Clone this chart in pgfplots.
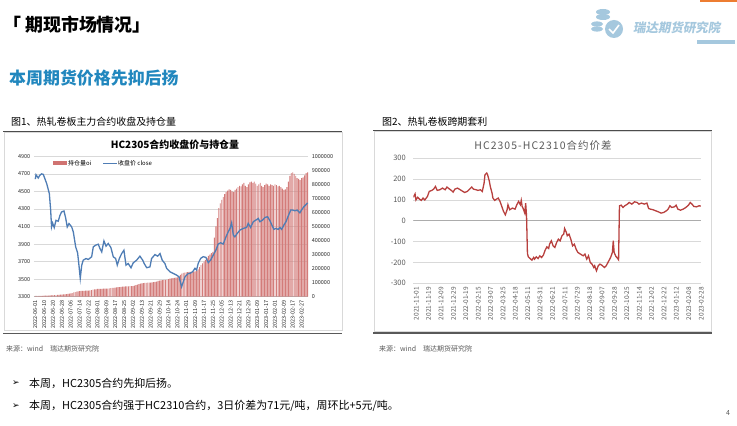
\documentclass[border=0pt]{standalone}
\usepackage{fontspec}
\usepackage{pgfplots}
\usepackage{pgfplotstable}
\pgfplotsset{compat=1.18}
\setmainfont{Noto Sans CJK SC}
\newfontfamily\logofont[FakeSlant=0.18]{Noto Sans CJK SC}
\newfontfamily\spaced[LetterSpace=10]{Noto Sans CJK SC}
\newfontfamily\dejavu{DejaVu Sans}

\definecolor{barred}{RGB}{196,80,78}
\definecolor{lineblue}{RGB}{79,125,181}
\definecolor{spreadred}{RGB}{184,64,62}
\definecolor{titleblue}{RGB}{33,135,190}
\definecolor{logoblue}{RGB}{165,200,222}
\definecolor{gridgray}{RGB}{217,217,217}
\definecolor{txtgray}{RGB}{89,89,89}
\definecolor{toporange}{RGB}{237,125,49}

% open interest of HC2305, one row per trading day from 2022-06-01
\pgfplotstableread[row sep=\\]{
oi\\
5000\\5000\\5500\\6000\\6000\\6500\\7000\\7000\\8000\\8000\\
9000\\10000\\11000\\11000\\12000\\13000\\13000\\14000\\15000\\16000\\
17000\\18000\\20000\\22000\\24000\\26000\\30000\\33000\\36000\\38000\\
40000\\41000\\42000\\42000\\43000\\43000\\44000\\45000\\47000\\50000\\
52000\\53000\\55000\\55000\\56000\\56000\\57000\\57000\\58000\\58000\\
60000\\61000\\62000\\63000\\64000\\66000\\68000\\69000\\70000\\71000\\
72000\\73000\\74000\\74000\\75000\\76000\\76000\\78000\\82000\\86000\\
90000\\93000\\95000\\97000\\98000\\99000\\100000\\100000\\101000\\102000\\
103000\\105000\\108000\\112000\\114000\\116000\\118000\\119000\\120000\\122000\\
125000\\128000\\130000\\132000\\134000\\136000\\138000\\145000\\155000\\165000\\
170000\\172000\\174000\\175000\\176000\\177000\\178000\\179000\\180000\\185000\\
195000\\210000\\225000\\238000\\250000\\262000\\275000\\290000\\300000\\310000\\
320000\\420000\\500000\\560000\\630000\\665000\\690000\\710000\\730000\\745000\\
755000\\765000\\760000\\750000\\745000\\760000\\770000\\780000\\790000\\785000\\
800000\\810000\\790000\\780000\\800000\\815000\\820000\\810000\\820000\\805000\\
790000\\800000\\810000\\790000\\780000\\795000\\805000\\800000\\790000\\800000\\
795000\\790000\\800000\\795000\\785000\\790000\\780000\\770000\\760000\\765000\\
780000\\820000\\860000\\880000\\885000\\875000\\860000\\845000\\840000\\830000\\
845000\\850000\\865000\\880000\\885000\\
}\oitable

\begin{document}
\begin{tikzpicture}
\useasboundingbox (0,0) rectangle (737bp,426bp);
\fill[white] (0,0) rectangle (737bp,426bp);

% header
\fill[toporange] (700bp,423.5bp) rectangle (737bp,426bp);
\node[anchor=west, inner sep=0] at (3bp,401bp) {\fontsize{18}{21}\selectfont\bfseries 「 期现市场情况」};
% logo
\begin{scope}[logoblue]
  \fill (603bp,414bp) ellipse (7bp and 3bp);
  \fill (603bp,409bp) ellipse (7bp and 3bp);
  \fill (597bp,402bp) ellipse (6bp and 2.6bp);
  \fill (597bp,397bp) ellipse (6bp and 2.6bp);
  \fill (614bp,397bp) circle (9bp);
  \draw[white, line width=1.6bp] (609bp,397bp) -- (613bp,393bp) -- (619bp,401bp);
\end{scope}
\node[anchor=west, inner sep=0, text=logoblue] at (633bp,398bp) {\logofont\fontsize{12.5}{15}\selectfont\bfseries 瑞达期货研究院};
\fill[logoblue] (697bp,382bp) rectangle (735bp,385.5bp);

\node[anchor=west, inner sep=0, text=titleblue] at (9bp,348bp) {\fontsize{17}{20}\selectfont\bfseries 本周期货价格先抑后扬};

% captions
\node[anchor=west, inner sep=0] at (11bp,304bp) {\fontsize{10}{12}\selectfont 图1、热轧卷板主力合约收盘及持仓量};
\node[anchor=west, inner sep=0] at (382bp,304bp) {\fontsize{10}{12}\selectfont 图2、热轧卷板跨期套利};

% frames
\draw[gridgray] (4bp,96bp) rectangle (342bp,294bp);
\draw[gridgray] (374bp,95bp) rectangle (711.5bp,295bp);
\draw[black!70, line width=1bp] (3bp,294.5bp) -- (342bp,294.5bp);
\draw[black!70, line width=1bp] (373bp,295.3bp) -- (712bp,295.3bp);
\draw[black!65, line width=1.5bp] (3bp,92.5bp) -- (342bp,92.5bp);
\draw[black!65, line width=1.5bp] (373bp,93bp) -- (712bp,93bp);

% left chart decorations
\node[inner sep=0] at (175bp,281bp) {\fontsize{10}{12}\selectfont\bfseries HC2305合约收盘价与持仓量};
\fill[barred!80] (53bp,261bp) rectangle (67bp,264.5bp);
\node[anchor=west, inner sep=0] at (68bp,262.7bp) {\fontsize{6}{7}\selectfont 持仓量oi};
\draw[lineblue, line width=1.3bp] (103bp,262.7bp) -- (117bp,262.7bp);
\node[anchor=west, inner sep=0] at (118bp,262.7bp) {\fontsize{6}{7}\selectfont 收盘价 close};

% price axis: grid and labels
\begin{axis}[at={(33.8bp,129.3bp)}, anchor=south west, scale only axis,
  width=274.5bp, height=140.4bp,
  xmin=-1, xmax=184.5, ymin=3300, ymax=4900,
  axis y line*=left, axis x line*=bottom,
  x axis line style={gridgray!60!gray}, y axis line style={draw=none},
  ytick={3300,3500,3700,3900,4100,4300,4500,4700,4900},
  ymajorgrids, grid style={gridgray, line width=0.6bp},
  xtick={0,6,...,180},
  xticklabels={2022-06-01,2022-06-10,2022-06-20,2022-06-28,2022-07-06,2022-07-14,2022-07-22,2022-08-01,2022-08-09,2022-08-17,2022-08-25,2022-09-02,2022-09-13,2022-09-21,2022-09-29,2022-10-14,2022-10-24,2022-11-01,2022-11-09,2022-11-17,2022-11-25,2022-12-05,2022-12-13,2022-12-21,2022-12-29,2023-01-09,2023-01-17,2023-02-01,2023-02-09,2023-02-17,2023-02-27},
  major tick length=0,
  tick label style={font=\fontsize{5.5}{6}\selectfont, text=black!85},
  xticklabel style={rotate=90, anchor=east},
  /pgf/number format/.cd, 1000 sep={}, assume math mode=true]
\end{axis}

% open interest bars, right axis
\begin{axis}[at={(33.8bp,129.3bp)}, anchor=south west, scale only axis,
  width=274.5bp, height=140.4bp,
  xmin=-1, xmax=184.5, ymin=0, ymax=1000000,
  axis x line=none, axis y line*=right, y axis line style={draw=none},
  ytick={0,100000,200000,300000,400000,500000,600000,700000,800000,900000,1000000},
  scaled y ticks=false, major tick length=0,
  yticklabel style={font=\fontsize{5.5}{6}\selectfont, text=black!85, /pgf/number format/.cd, fixed, 1000 sep={}, assume math mode=true}]
\addplot[ybar, bar width=0.62, fill=barred!75, draw=none] table[x expr=\coordindex, y=oi] {\oitable};
\end{axis}

% close price line
\begin{axis}[at={(33.8bp,129.3bp)}, anchor=south west, scale only axis,
  width=274.5bp, height=140.4bp,
  xmin=-1, xmax=184.5, ymin=3300, ymax=4900, hide axis]
\addplot[lineblue, line width=1.3bp] coordinates {
(0,4640)(0.5,4690)(2,4652)(3,4683)(4.3,4700)(5.4,4694)(7.7,4590)(9.5,4475)(10.4,4285)(11,4095)
(11.7,4140)(12.8,4088)(14,4170)(15.5,4160)(16.7,4228)(17.8,4266)(19.4,4277)(20.5,4200)(21.6,4095)(22.8,4133)
(24.6,4095)(25.7,4038)(27.3,3868)(28.6,3800)(29.5,3660)(30.4,3508)(31.4,3660)(32.4,3716)(34.3,3735)(35.8,3724)
(38.1,3755)(39.2,3868)(40.8,3887)(42.6,3898)(43.7,3849)(44.9,3811)(46.4,3936)(47.8,3876)(49.3,3906)(51.1,3860)
(52.7,3755)(54.3,3735)(55.4,3660)(56.8,3735)(58.4,3792)(59.9,3830)(61.3,3660)(62.8,3678)(64.7,3630)(66.2,3686)
(68.5,3716)(70.7,3762)(72.6,3716)(73.6,3678)(75.3,3630)(77.5,3640)(78.6,3735)(80.9,3780)(82.7,3762)(84.3,3792)
(85.8,3716)(87.6,3678)(88.8,3622)(91,3584)(93.2,3565)(95.5,3546)(97.1,3527)(98.9,3413)(100,3470)(101.2,3527)
(103.4,3565)(104.5,3566)(106.4,3585)(107.9,3623)(109,3604)(110.1,3680)(111.8,3737)(113.5,3756)(115.3,3748)(116.9,3688)
(118.5,3718)(120.3,3775)(122.1,3832)(123.6,3900)(125.3,3915)(127,3900)(128.9,3983)(130.4,4040)(131.6,4078)(132.7,4142)
(133.8,4002)(134.9,3983)(136.5,4021)(138.3,4059)(140.5,4078)(142.8,4089)(143.9,4135)(145.5,4089)(147.3,4154)(149.1,4173)
(150.7,4192)(151.8,4154)(153.6,4173)(155.2,4203)(157,4211)(158.6,4165)(159.9,4116)(161.3,4067)(162.6,4078)(164.2,4067)
(165.3,4089)(166.5,4067)(168,4116)(169.4,4154)(170.9,4218)(172.6,4287)(173.9,4287)(175.5,4279)(177,4287)(178.8,4256)
(179.9,4287)(181.5,4325)(183,4350)(184,4370)};
\end{axis}

% right chart
\node[inner sep=0, text=txtgray] at (543bp,280bp) {\spaced\fontsize{10.5}{12}\selectfont HC2305-HC2310合约价差};
\begin{axis}[at={(413.3bp,142.7bp)}, anchor=south west, scale only axis,
  width=288bp, height=125bp,
  xmin=0, xmax=325.5, ymin=-300, ymax=300,
  axis line style={draw=none},
  ytick={-300,-200,-100,0,100,200,300},
  ymajorgrids, grid style={gridgray, line width=0.8bp},
  xtick={0,14,...,322},
  xticklabels={2021-11-01,2021-11-19,2021-12-09,2021-12-29,2022-01-19,2022-02-15,2022-03-07,2022-03-25,2022-04-18,2022-05-11,2022-05-31,2022-06-21,2022-07-11,2022-07-29,2022-08-18,2022-09-07,2022-09-28,2022-10-25,2022-11-14,2022-12-02,2022-12-22,2023-01-12,2023-02-08,2023-02-28},
  major tick length=0,
  tick label style={font=\fontsize{6.5}{7}\selectfont, text=txtgray},
  yticklabel style={font=\fontsize{7.5}{8}\selectfont, xshift=-4bp},
  xticklabel style={rotate=90, anchor=east, yshift=-3bp},
  /pgf/number format/assume math mode=true]
\draw[gray!65, line width=1.2bp] (axis cs:0,0) -- (axis cs:325.5,0);
\addplot[spreadred, line width=1.3bp] coordinates {
(0,113)(2,129)(3,100)(5,113)(7,104)(9,98)(11,109)(13,100)(16,117)(18,141)
(21,146)(23,152)(25,165)(27,146)(30,149)(33,157)(36,149)(38,162)(41,152)(43,146)
(45,138)(47,152)(50,157)(53,149)(56,141)(58,136)(61,141)(63,149)(66,162)(68,152)
(71,149)(73,146)(76,149)(78,141)(80,181)(81,221)(83,229)(84,221)(86,189)(87,165)
(89,133)(90,109)(92,98)(94,104)(96,109)(98,93)(100,69)(102,45)(104,29)(106,53)
(107,77)(109,53)(112,61)(115,56)(117,77)(119,93)(121,77)(122,98)(123,69)(124,61)
(126,37)(127,85)(128,21)(129,-157)(130,-173)(132,-181)(134,-189)(136,-176)(137,-184)(139,-173)
(141,-181)(143,-168)(145,-176)(147,-165)(149,-141)(151,-125)(153,-133)(154,-112)(156,-96)(158,-120)
(160,-128)(162,-104)(164,-88)(166,-96)(168,-72)(170,-64)(171,-37)(173,-56)(174,-72)(176,-64)
(178,-88)(180,-120)(182,-112)(184,-136)(186,-152)(189,-160)(192,-168)(194,-160)(196,-184)(198,-168)
(200,-200)(202,-208)(204,-224)(205,-216)(207,-240)(209,-216)(211,-208)(213,-213)(216,-224)(218,-216)
(220,-200)(223,-176)(225,-152)(226,-96)(227,-152)(229,-171)(231,-181)(232,-187)(233,72)(235,75)
(237,64)(239,72)(242,80)(244,88)(247,80)(250,91)(253,88)(255,80)(258,85)(261,80)
(264,85)(266,59)(268,56)(271,53)(274,48)(277,43)(280,37)(283,40)(286,48)(288,56)
(290,72)(292,64)(295,67)(297,75)(299,56)(302,51)(305,56)(308,64)(311,75)(313,88)
(315,80)(317,69)(320,67)(323,72)(325,71)};
\end{axis}

% sources
\node[anchor=west, inner sep=0, text=txtgray] at (6bp,77bp) {\fontsize{7}{8}\selectfont 来源：wind\quad 瑞达期货研究院};
\node[anchor=west, inner sep=0, text=txtgray] at (379bp,77bp) {\fontsize{7}{8}\selectfont 来源：wind\quad 瑞达期货研究院};

% bullets
\node[anchor=west, inner sep=0] at (12bp,43bp) {\dejavu\fontsize{9}{10}\selectfont ➢};
\node[anchor=west, inner sep=0] at (29bp,43bp) {\fontsize{11}{13}\selectfont 本周，HC2305合约先抑后扬。};
\node[anchor=west, inner sep=0] at (12bp,20bp) {\dejavu\fontsize{9}{10}\selectfont ➢};
\node[anchor=west, inner sep=0] at (29bp,20bp) {\fontsize{11}{13}\selectfont 本周，HC2305合约强于HC2310合约，3日价差为71元/吨，周环比+5元/吨。};
\node[inner sep=0, text=txtgray] at (728bp,13bp) {\fontsize{7}{8}\selectfont 4};
\end{tikzpicture}
\end{document}
